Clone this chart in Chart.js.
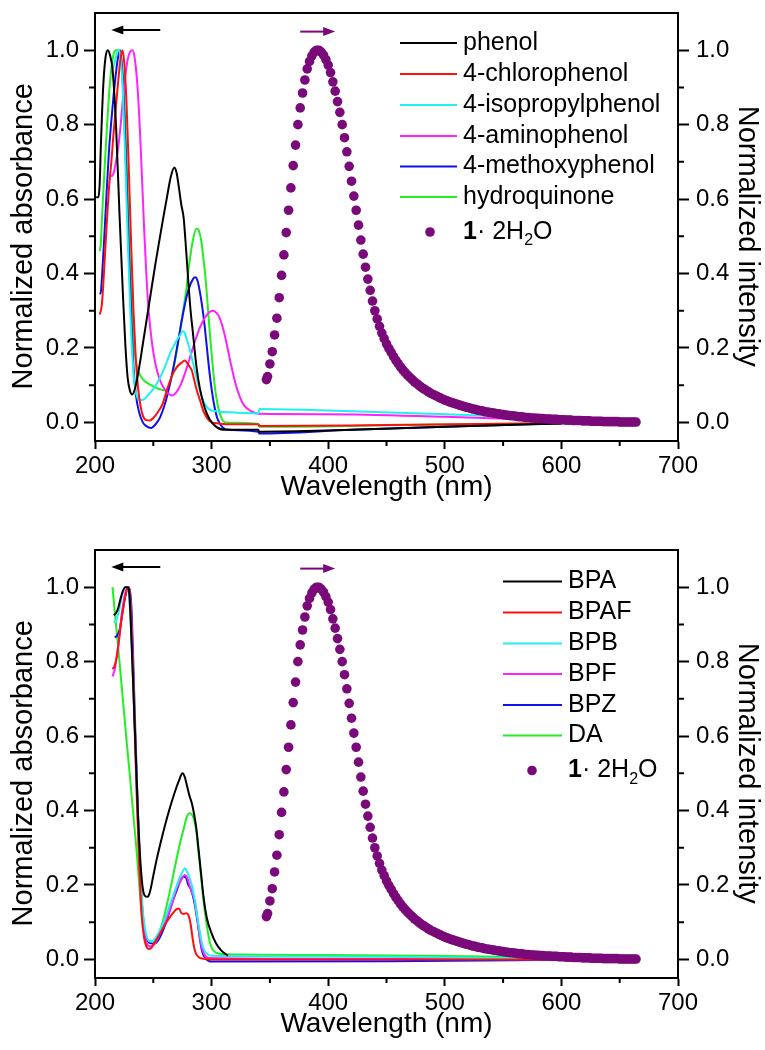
<!DOCTYPE html>
<html>
<head>
<meta charset="utf-8">
<script src="https://cdn.jsdelivr.net/npm/chart.js@4.4.1/dist/chart.umd.min.js"></script>
<style>
  body { margin: 0; background: #fff; }
  #wrap { position: relative; width: 765px; height: 1050px; background: #fff; }
  canvas { position: absolute; left: 0; }
</style>
</head>
<body>
<div id="wrap">
  <canvas id="graficoTopo" width="765" height="513" style="top:0px"></canvas>
  <canvas id="graficoBaixo" width="765" height="513" style="top:537px"></canvas>
</div>
<script>
// =========================================
// DADOS
// =========================================
const xTicks = [200, 300, 400, 500, 600, 700];
const xMinor = [250, 350, 450, 550, 650];
const yTicks = [0, 0.2, 0.4, 0.6, 0.8, 1.0];
const yMinor = [0.1, 0.3, 0.5, 0.7, 0.9];

// painel superior
const phenolX = [201, 203, 204, 205, 207, 209, 211, 213, 215, 218, 221, 224, 226, 228, 230, 232, 235, 238, 241, 246, 252, 258, 262, 265, 268, 270, 272, 274, 276, 278, 280, 282, 284, 287, 290, 294, 298, 304, 312, 340, 341, 400, 500, 600];
const phenolY = [0.605, 0.605, 0.64, 0.74, 0.90, 0.98, 1.0, 0.985, 0.95, 0.80, 0.56, 0.34, 0.21, 0.12, 0.085, 0.075, 0.10, 0.15, 0.21, 0.31, 0.43, 0.54, 0.61, 0.66, 0.685, 0.67, 0.63, 0.585, 0.55, 0.47, 0.38, 0.30, 0.24, 0.15, 0.09, 0.04, 0.01, -0.012, -0.02, -0.02, -0.025, -0.022, -0.012, -0.003];

const chloroX = [204, 205, 206, 208, 210, 212, 214, 216, 218, 220, 222, 223.5, 225, 227, 229, 231, 233, 235, 237, 239, 241, 244, 247, 250, 254, 258, 262, 266, 270, 274, 277, 279, 281, 283, 285, 287, 290, 293, 296, 300, 306, 312, 340, 341, 450, 600];
const chloroY = [0.29, 0.30, 0.32, 0.42, 0.53, 0.63, 0.70, 0.78, 0.85, 0.92, 0.98, 1.0, 0.97, 0.86, 0.68, 0.48, 0.30, 0.17, 0.09, 0.045, 0.018, 0.006, 0.005, 0.012, 0.028, 0.05, 0.09, 0.125, 0.148, 0.16, 0.166, 0.16, 0.15, 0.14, 0.115, 0.09, 0.06, 0.03, 0.012, 0.0, -0.003, -0.005, -0.005, -0.01, -0.007, -0.002];

const isoX = [213, 215, 217, 219, 220.5, 222, 224, 226, 228, 230, 232, 234, 236, 239, 242, 246, 250, 255, 260, 265, 270, 273, 275, 277, 279, 281, 284, 287, 290, 294, 298, 304, 315, 340, 341, 400, 500, 560, 600];
const isoY = [0.95, 0.95, 0.97, 0.995, 1.0, 0.98, 0.88, 0.70, 0.50, 0.32, 0.18, 0.10, 0.07, 0.06, 0.062, 0.075, 0.09, 0.115, 0.15, 0.19, 0.22, 0.235, 0.245, 0.24, 0.22, 0.20, 0.16, 0.12, 0.085, 0.05, 0.035, 0.03, 0.027, 0.024, 0.036, 0.032, 0.022, 0.015, 0.01];

const aminoX = [214, 216, 218, 220, 222, 224, 226, 228, 230, 232, 234, 236, 238, 240, 242, 244, 246, 249, 252, 255, 258, 262, 266, 270, 274, 278, 282, 286, 290, 294, 298, 301, 304, 307, 310, 313, 316, 320, 324, 328, 334, 340, 400, 500, 600];
const aminoY = [0.66, 0.67, 0.70, 0.74, 0.80, 0.87, 0.93, 0.975, 0.995, 1.0, 0.98, 0.92, 0.82, 0.68, 0.53, 0.40, 0.30, 0.21, 0.155, 0.12, 0.098, 0.08, 0.072, 0.082, 0.105, 0.14, 0.18, 0.22, 0.255, 0.28, 0.296, 0.30, 0.295, 0.28, 0.25, 0.21, 0.165, 0.11, 0.07, 0.045, 0.03, 0.023, 0.022, 0.015, 0.005];

const methX = [204, 205, 206, 208, 210, 212, 214, 216, 218, 220, 221.5, 223, 225, 227, 229, 231, 233, 235, 238, 241, 244, 248, 252, 256, 260, 264, 268, 272, 276, 280, 284, 286, 288, 290, 292, 294, 296, 298, 300, 302, 305, 309, 315, 340, 341, 420, 520, 600];
const methY = [0.345, 0.35, 0.39, 0.50, 0.62, 0.73, 0.81, 0.88, 0.94, 0.985, 1.0, 0.96, 0.84, 0.66, 0.46, 0.29, 0.15, 0.075, 0.025, 0.0, -0.01, -0.015, -0.005, 0.015, 0.05, 0.10, 0.16, 0.23, 0.30, 0.355, 0.385, 0.39, 0.38, 0.35, 0.31, 0.26, 0.20, 0.14, 0.09, 0.05, 0.01, -0.012, -0.02, -0.025, -0.03, -0.02, -0.01, -0.002];

const hydroX = [204, 205, 206, 208, 210, 212, 214, 216, 218, 220, 222, 224, 226, 228, 230, 232, 234, 236, 239, 243, 248, 253, 258, 261, 264, 267, 270, 274, 278, 281, 284, 287, 289, 291, 293, 295, 297, 299, 301, 303, 305, 308, 312, 340, 341, 450, 600];
const hydroY = [0.46, 0.48, 0.55, 0.67, 0.78, 0.88, 0.95, 0.99, 1.0, 1.0, 0.985, 0.93, 0.80, 0.62, 0.43, 0.28, 0.19, 0.15, 0.125, 0.11, 0.10, 0.092, 0.087, 0.086, 0.10, 0.14, 0.19, 0.27, 0.35, 0.43, 0.49, 0.52, 0.515, 0.49, 0.44, 0.38, 0.30, 0.22, 0.15, 0.09, 0.05, 0.015, 0.0, -0.004, -0.012, -0.008, -0.002];

// painel inferior
const bpaX = [216, 218, 220, 222, 224, 226, 228, 229.5, 231, 233, 235, 237, 239, 241, 243, 245, 247, 250, 253, 256, 260, 264, 268, 272, 275, 277, 279, 281, 283, 285, 287, 289, 291, 293, 296, 300, 304, 308, 314];
const bpaY = [0.925, 0.93, 0.945, 0.97, 0.99, 1.0, 1.0, 0.98, 0.88, 0.72, 0.55, 0.38, 0.26, 0.19, 0.17, 0.168, 0.18, 0.225, 0.27, 0.31, 0.36, 0.405, 0.445, 0.48, 0.50, 0.49, 0.465, 0.44, 0.42, 0.39, 0.35, 0.29, 0.23, 0.17, 0.11, 0.07, 0.042, 0.025, 0.01];

const bpafX = [215, 217, 219, 221, 223, 225, 227, 229, 230.5, 232, 234, 236, 238, 240, 242, 244, 246, 248, 251, 255, 259, 263, 267, 270, 272, 274, 276, 278, 280, 282, 284, 286, 289, 293, 300, 450, 600];
const bpafY = [0.78, 0.79, 0.82, 0.87, 0.92, 0.96, 0.99, 1.0, 0.95, 0.82, 0.62, 0.42, 0.25, 0.12, 0.06, 0.035, 0.028, 0.03, 0.045, 0.065, 0.088, 0.108, 0.125, 0.135, 0.137, 0.125, 0.122, 0.124, 0.12, 0.095, 0.05, 0.02, 0.006, 0.002, 0.0, 0.0, 0.0];

const bpbX = [216, 218, 220, 222, 224, 225.5, 227, 229, 231, 233, 235, 237, 239, 241, 243, 245, 247, 249, 252, 256, 260, 264, 268, 272, 275, 277, 279, 281, 283, 285, 287, 289, 291, 293, 296, 300, 400, 500, 600];
const bpbY = [0.905, 0.91, 0.93, 0.96, 0.99, 1.0, 1.0, 0.98, 0.88, 0.72, 0.54, 0.37, 0.23, 0.13, 0.08, 0.055, 0.048, 0.048, 0.058, 0.08, 0.11, 0.145, 0.18, 0.215, 0.235, 0.245, 0.235, 0.22, 0.20, 0.17, 0.13, 0.09, 0.055, 0.03, 0.015, 0.01, 0.008, 0.005, 0.002];

const bpfX = [215, 217, 219, 221, 223, 225, 227, 229, 230.5, 232, 234, 236, 238, 240, 242, 244, 247, 250, 254, 258, 262, 266, 270, 274, 277, 279, 281, 283, 285, 287, 289, 291, 294, 298, 400, 600];
const bpfY = [0.76, 0.78, 0.82, 0.87, 0.93, 0.97, 0.995, 1.0, 0.96, 0.84, 0.64, 0.44, 0.27, 0.14, 0.07, 0.045, 0.035, 0.038, 0.058, 0.085, 0.115, 0.15, 0.19, 0.215, 0.227, 0.22, 0.20, 0.18, 0.165, 0.13, 0.08, 0.04, 0.012, 0.004, 0.002, 0.0];

const bpzX = [217, 219, 221, 223, 225, 227, 228.5, 230, 231.5, 233, 235, 237, 239, 241, 243, 245, 248, 251, 254, 258, 262, 266, 270, 273, 276, 278, 280, 282, 284, 286, 288, 290, 292, 295, 300, 450, 560, 600];
const bpzY = [0.865, 0.87, 0.885, 0.92, 0.96, 0.99, 1.0, 0.99, 0.93, 0.78, 0.57, 0.38, 0.22, 0.12, 0.07, 0.05, 0.043, 0.042, 0.05, 0.075, 0.11, 0.15, 0.185, 0.21, 0.222, 0.22, 0.20, 0.19, 0.17, 0.14, 0.10, 0.055, 0.02, 0.002, -0.006, -0.005, -0.002, 0.0];

const daX = [215, 218, 221, 224, 227, 230, 233, 236, 238, 240, 242, 245, 248, 251, 254, 257, 260, 264, 268, 272, 276, 279, 281, 283, 285, 287, 289, 291, 293, 295, 297, 299, 302, 306, 312, 400, 500, 600];
const daY = [1.0, 0.90, 0.80, 0.695, 0.59, 0.49, 0.385, 0.28, 0.20, 0.12, 0.075, 0.052, 0.048, 0.05, 0.065, 0.09, 0.125, 0.18, 0.24, 0.30, 0.35, 0.385, 0.393, 0.39, 0.375, 0.34, 0.28, 0.22, 0.16, 0.11, 0.07, 0.04, 0.022, 0.016, 0.014, 0.012, 0.009, 0.005];

// emissão de 1·2H2O (mesma curva nos dois painéis)
const emX = [347, 348, 350, 352, 354, 356, 358, 360, 362, 364, 366, 368, 370, 372, 374, 376, 378, 380, 382, 384, 386, 388, 390, 392, 394, 396, 398,
  400, 402, 404, 406, 408, 410, 412, 414, 416, 418, 420, 422, 424, 426, 428, 430, 432, 434, 436, 438, 440, 442, 444, 446, 448,
  450, 452, 454, 456, 458, 460, 462, 464, 466, 468, 470, 472, 474, 476, 478, 480, 482, 484, 486, 488, 490, 492, 494, 496, 498,
  500, 502, 504, 506, 508, 510, 512, 514, 516, 518, 520, 522, 524, 526, 528, 530, 532, 534, 536, 538, 540, 542, 544, 546, 548,
  550, 552, 554, 556, 558, 560, 562, 564, 566, 568, 570, 572, 574, 576, 578, 580, 582, 584, 586, 588, 590, 592, 594, 596, 598,
  600, 602, 604, 606, 608, 610, 612, 614, 616, 618, 620, 622, 624, 626, 628, 630, 632, 634, 636, 638, 640, 642, 644, 646, 648,
  650, 652, 654, 656, 658, 660, 662, 664];
const emY = [0.115, 0.123, 0.157, 0.19, 0.235, 0.28, 0.335, 0.395, 0.45, 0.51, 0.57, 0.63, 0.69, 0.745, 0.80, 0.845, 0.885, 0.92, 0.95, 0.97, 0.985, 0.995, 1.0, 1.0, 0.995, 0.987, 0.975,
  0.96, 0.94, 0.915, 0.89, 0.862, 0.833, 0.80, 0.765, 0.727, 0.688, 0.648, 0.608, 0.57, 0.53, 0.49, 0.452, 0.417, 0.385, 0.355, 0.326, 0.30, 0.278, 0.258, 0.24, 0.225,
  0.211, 0.199, 0.188, 0.177, 0.167, 0.158, 0.149, 0.141, 0.134, 0.127, 0.121, 0.115, 0.109, 0.104, 0.099, 0.094, 0.09, 0.086, 0.082, 0.078, 0.075, 0.072, 0.069, 0.066, 0.063,
  0.06, 0.058, 0.055, 0.053, 0.051, 0.049, 0.047, 0.045, 0.043, 0.041, 0.04, 0.038, 0.036, 0.035, 0.033, 0.032, 0.031, 0.029, 0.028, 0.027, 0.026, 0.025, 0.024, 0.023, 0.022,
  0.021, 0.02, 0.019, 0.018, 0.018, 0.017, 0.016, 0.015, 0.015, 0.014, 0.013, 0.013, 0.012, 0.012, 0.011, 0.011, 0.01, 0.01, 0.009, 0.009, 0.009, 0.008, 0.008, 0.008, 0.007,
  0.007, 0.007, 0.006, 0.006, 0.006, 0.005, 0.005, 0.005, 0.005, 0.004, 0.004, 0.004, 0.004, 0.003, 0.003, 0.003, 0.003, 0.003, 0.002, 0.002, 0.002, 0.002, 0.002, 0.002, 0.002,
  0.001, 0.001, 0.001, 0.001, 0.001, 0.001, 0.001, 0.001];

// =========================================
// ESTILOS
// =========================================
const FONTE = "'Liberation Sans', Arial, Helvetica, sans-serif";
const ROXO = "#7a0a7a";
const PRETO = "#000000";
const VERMELHO = "#ff1010";
const CIANO = "#22f0f0";
const MAGENTA = "#ff22ff";
const AZUL = "#1010e8";
const VERDE = "#22ee22";

function pontos(xs, ys) {
    return xs.map((x, i) => ({ x: x, y: ys[i] }));
}

// =========================================
// PLUGIN: moldura, ticks menores, títulos dos eixos Y, setas e legenda
// =========================================
function criarDecoracao(leg) {
    return {
        id: "decoracao",
        afterDraw(chart) {
            const ctx = chart.ctx;
            const a = chart.chartArea;
            const sx = chart.scales.x;
            const sy = chart.scales.y;

            ctx.save();
            ctx.strokeStyle = "#000";
            ctx.lineWidth = 2;

            // borda superior
            ctx.beginPath();
            ctx.moveTo(a.left - 1, a.top);
            ctx.lineTo(a.right + 1, a.top);
            ctx.stroke();

            // ticks menores
            ctx.beginPath();
            xMinor.forEach(v => {
                const px = sx.getPixelForValue(v);
                ctx.moveTo(px, a.bottom);
                ctx.lineTo(px, a.bottom + 5);
            });
            yMinor.forEach(v => {
                const py = sy.getPixelForValue(v);
                ctx.moveTo(a.left - 6, py);
                ctx.lineTo(a.left, py);
                ctx.moveTo(a.right, py);
                ctx.lineTo(a.right + 6, py);
            });
            ctx.stroke();

            // títulos dos eixos Y (centrados no intervalo 0–1)
            const yc = sy.getPixelForValue(0.5);
            ctx.fillStyle = "#000";
            ctx.font = "29px " + FONTE;
            ctx.textAlign = "center";
            ctx.textBaseline = "middle";
            ctx.save();
            ctx.translate(23.5, yc);
            ctx.rotate(-Math.PI / 2);
            ctx.fillText("Normalized absorbance", 0, 0);
            ctx.restore();
            ctx.save();
            ctx.translate(746.5, yc);
            ctx.rotate(Math.PI / 2);
            ctx.fillText("Normalized intensity", 0, 0);
            ctx.restore();

            // setas
            function seta(x1, x2, yv, cor) {
                const p1 = sx.getPixelForValue(x1);
                const p2 = sx.getPixelForValue(x2);
                const py = sy.getPixelForValue(yv);
                const dir = p2 > p1 ? 1 : -1;
                ctx.strokeStyle = cor;
                ctx.fillStyle = cor;
                ctx.lineWidth = 2;
                ctx.beginPath();
                ctx.moveTo(p1, py);
                ctx.lineTo(p2 - dir * 8, py);
                ctx.stroke();
                ctx.beginPath();
                ctx.moveTo(p2, py);
                ctx.lineTo(p2 - dir * 12, py - 4.5);
                ctx.lineTo(p2 - dir * 12, py + 4.5);
                ctx.closePath();
                ctx.fill();
            }
            seta(256, 214, 1.054, "#000");
            seta(376, 406, 1.05, ROXO);

            // legenda
            ctx.textBaseline = "middle";
            ctx.textAlign = "left";
            leg.itens.forEach((it, i) => {
                const y = leg.linhas[i];
                ctx.strokeStyle = it.cor;
                ctx.lineWidth = 2;
                ctx.beginPath();
                ctx.moveTo(leg.x1, y);
                ctx.lineTo(leg.x2, y);
                ctx.stroke();
                ctx.fillStyle = "#000";
                ctx.font = "25px " + FONTE;
                ctx.fillText(it.nome, leg.tx, y);
            });

            const ye = leg.linhas[leg.itens.length];
            ctx.fillStyle = ROXO;
            ctx.beginPath();
            ctx.arc(leg.px, ye, 4.8, 0, Math.PI * 2);
            ctx.fill();

            ctx.fillStyle = "#000";
            let x = leg.tx;
            ctx.font = "bold 25px " + FONTE;
            ctx.fillText("1", x, ye);
            x += ctx.measureText("1").width;
            ctx.font = "25px " + FONTE;
            ctx.fillText("\u00b7 2H", x, ye);
            x += ctx.measureText("\u00b7 2H").width;
            ctx.font = "16px " + FONTE;
            ctx.fillText("2", x, ye + 9);
            x += ctx.measureText("2").width;
            ctx.font = "25px " + FONTE;
            ctx.fillText("O", x, ye);

            ctx.restore();
        }
    };
}

// =========================================
// FUNÇÃO PARA CRIAR UM PAINEL
// =========================================
function criarGrafico(id, series, leg) {
    const el = document.getElementById(id);
    if (!el || typeof Chart === "undefined") return;

    const datasets = series.map((s, i) => ({
        label: s.nome,
        data: pontos(s.x, s.y),
        borderColor: s.cor,
        backgroundColor: s.cor,
        borderWidth: 2,
        showLine: true,
        pointRadius: 0,
        tension: 0.3,
        cubicInterpolationMode: "monotone",
        yAxisID: "y",
        order: i + 1
    }));

    datasets.push({
        label: "1·2H2O",
        data: pontos(emX, emY),
        showLine: false,
        pointRadius: 4.8,
        pointBorderWidth: 0,
        pointBackgroundColor: ROXO,
        pointBorderColor: ROXO,
        yAxisID: "y2",
        order: 0
    });

    const eixoY = (pos, largura) => ({
        type: "linear",
        position: pos,
        min: -0.05,
        max: 1.1,
        afterBuildTicks: s => { s.ticks = yTicks.map(v => ({ value: v })); },
        afterFit: s => { s.width = largura; s.paddingTop = 0; s.paddingBottom = 0; },
        grid: { drawOnChartArea: false, drawTicks: true, tickLength: 11, tickWidth: 2, tickColor: "#000" },
        border: { display: true, color: "#000", width: 2 },
        ticks: {
            color: "#000",
            padding: pos === "left" ? 5 : 7,
            font: { family: FONTE, size: 24 },
            callback: v => Number(v).toFixed(1)
        },
        title: { display: false }
    });

    new Chart(el, {
        type: "scatter",
        data: { datasets: datasets },
        options: {
            responsive: false,
            animation: false,
            devicePixelRatio: 1,
            layout: { padding: { top: 13, left: 0, right: 0, bottom: 0 } },
            plugins: { legend: { display: false }, tooltip: { enabled: false } },
            scales: {
                x: {
                    type: "linear",
                    min: 200,
                    max: 700,
                    afterBuildTicks: s => { s.ticks = xTicks.map(v => ({ value: v })); },
                    afterFit: s => { s.height = 72; s.paddingLeft = 0; s.paddingRight = 0; },
                    grid: { drawOnChartArea: false, drawTicks: true, tickLength: 8, tickWidth: 2, tickColor: "#000" },
                    border: { display: true, color: "#000", width: 2 },
                    ticks: { color: "#000", padding: 3, maxRotation: 0, font: { family: FONTE, size: 24 } },
                    title: {
                        display: true,
                        text: "Wavelength (nm)",
                        color: "#000",
                        font: { family: FONTE, size: 28 },
                        padding: { top: 0, bottom: 9 }
                    }
                },
                y: eixoY("left", 95),
                y2: eixoY("right", 87)
            }
        },
        plugins: [criarDecoracao(leg)]
    });
}

// =========================================
// EXECUTA QUANDO O HTML ESTIVER CARREGADO
// =========================================
window.addEventListener("DOMContentLoaded", () => {
    criarGrafico("graficoTopo", [
        { nome: "phenol", x: phenolX, y: phenolY, cor: PRETO },
        { nome: "4-chlorophenol", x: chloroX, y: chloroY, cor: VERMELHO },
        { nome: "4-isopropylphenol", x: isoX, y: isoY, cor: CIANO },
        { nome: "4-aminophenol", x: aminoX, y: aminoY, cor: MAGENTA },
        { nome: "4-methoxyphenol", x: methX, y: methY, cor: AZUL },
        { nome: "hydroquinone", x: hydroX, y: hydroY, cor: VERDE }
    ], {
        itens: [
            { nome: "phenol", cor: PRETO },
            { nome: "4-chlorophenol", cor: VERMELHO },
            { nome: "4-isopropylphenol", cor: CIANO },
            { nome: "4-aminophenol", cor: MAGENTA },
            { nome: "4-methoxyphenol", cor: AZUL },
            { nome: "hydroquinone", cor: VERDE }
        ],
        linhas: [43, 74, 105, 136, 166.5, 197, 232],
        x1: 400, x2: 457, tx: 463, px: 430
    });

    criarGrafico("graficoBaixo", [
        { nome: "BPA", x: bpaX, y: bpaY, cor: PRETO },
        { nome: "BPAF", x: bpafX, y: bpafY, cor: VERMELHO },
        { nome: "BPB", x: bpbX, y: bpbY, cor: CIANO },
        { nome: "BPF", x: bpfX, y: bpfY, cor: MAGENTA },
        { nome: "BPZ", x: bpzX, y: bpzY, cor: AZUL },
        { nome: "DA", x: daX, y: daY, cor: VERDE }
    ], {
        itens: [
            { nome: "BPA", cor: PRETO },
            { nome: "BPAF", cor: VERMELHO },
            { nome: "BPB", cor: CIANO },
            { nome: "BPF", cor: MAGENTA },
            { nome: "BPZ", cor: AZUL },
            { nome: "DA", cor: VERDE }
        ],
        linhas: [44.5, 75.5, 106.5, 137, 168, 198.5, 233.5],
        x1: 503, x2: 562, tx: 568, px: 532
    });
});
</script>
</body>
</html>
